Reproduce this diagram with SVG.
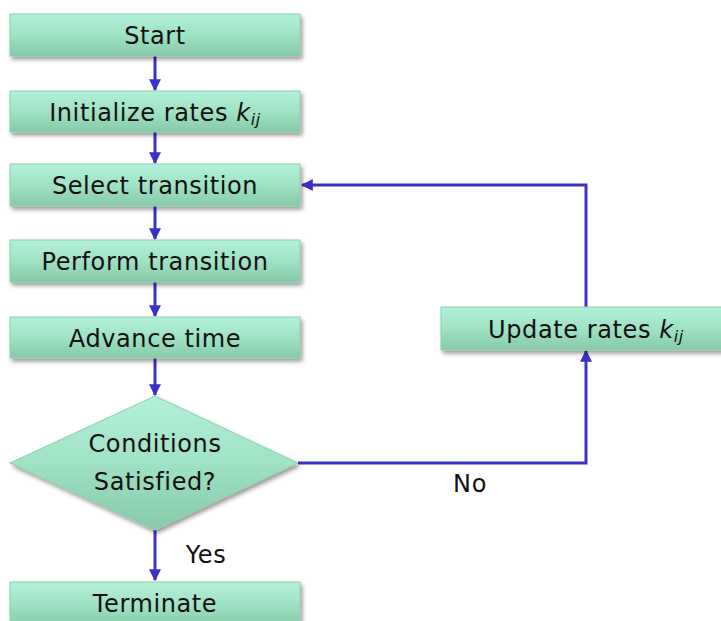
<svg xmlns="http://www.w3.org/2000/svg" width="721" height="621" viewBox="0 0 721 621">
  <defs>
    <linearGradient id="boxFill" x1="0" y1="0" x2="0" y2="1">
      <stop offset="0" stop-color="#b4f0d9"/>
      <stop offset="0.5" stop-color="#9fe2c4"/>
      <stop offset="1" stop-color="#86caa9"/>
    </linearGradient>
    <filter id="shadow" x="-10%" y="-20%" width="125%" height="150%">
      <feGaussianBlur in="SourceAlpha" stdDeviation="2"/>
      <feOffset dx="2" dy="3" result="b"/>
      <feComponentTransfer><feFuncA type="linear" slope="0.4"/></feComponentTransfer>
      <feMerge><feMergeNode/><feMergeNode in="SourceGraphic"/></feMerge>
    </filter>
    <marker id="arrow" viewBox="0 0 10 10" refX="9" refY="5" markerWidth="4" markerHeight="4" orient="auto" markerUnits="strokeWidth">
      <path d="M0,0 L10,5 L0,10 z" fill="#3a32c8"/>
    </marker>
  </defs>
  <style>
    .box { fill: url(#boxFill); stroke: #8ccfb0; stroke-width: 1; filter: url(#shadow); }
    .lbl { font-family: "DejaVu Sans", Verdana, sans-serif; font-size: 24px; fill: #111; text-anchor: middle; letter-spacing: 0.6px; }
    .sub { font-style: italic; }
    .edge { fill: none; stroke: #3a32c8; stroke-width: 3; marker-end: url(#arrow); }
  </style>

  <!-- connectors -->
  <g id="connectors">
    <line class="edge" x1="155" y1="56" x2="155" y2="90"/>
    <line class="edge" x1="155" y1="132" x2="155" y2="163"/>
    <line class="edge" x1="155" y1="206" x2="155" y2="239"/>
    <line class="edge" x1="155" y1="282" x2="155" y2="316"/>
    <line class="edge" x1="155" y1="358" x2="155" y2="395"/>
    <line class="edge" x1="155" y1="530" x2="155" y2="580"/>
    <polyline class="edge" points="298,463 586,463 586,351"/>
    <polyline class="edge" points="586,307 586,185 302,185"/>
  </g>

  <g id="start">
    <rect class="box" x="10" y="14" width="290" height="42"/>
    <text class="lbl" x="155" y="44">Start</text>
  </g>
  <g id="init">
    <rect class="box" x="10" y="91" width="290" height="41"/>
    <text class="lbl" x="155" y="121">Initialize rates <tspan class="sub">k</tspan><tspan class="sub" font-size="16" dy="4">ij</tspan></text>
  </g>
  <g id="select">
    <rect class="box" x="10" y="164" width="290" height="42"/>
    <text class="lbl" x="155" y="194">Select transition</text>
  </g>
  <g id="perform">
    <rect class="box" x="10" y="240" width="290" height="42"/>
    <text class="lbl" x="155" y="270">Perform transition</text>
  </g>
  <g id="advance">
    <rect class="box" x="10" y="317" width="290" height="41"/>
    <text class="lbl" x="155" y="347">Advance time</text>
  </g>
  <g id="decision">
    <polygon class="box" points="155,396 298,463 155,530 10,463"/>
    <text class="lbl" x="155" y="452">Conditions</text>
    <text class="lbl" x="155" y="490">Satisfied?</text>
  </g>
  <g id="update">
    <rect class="box" x="441" y="307" width="290" height="43"/>
    <text class="lbl" x="586" y="338">Update rates <tspan class="sub">k</tspan><tspan class="sub" font-size="16" dy="4">ij</tspan></text>
  </g>
  <g id="terminate">
    <rect class="box" x="10" y="582" width="290" height="45"/>
    <text class="lbl" x="155" y="612">Terminate</text>
  </g>

  <g id="edge-labels">
    <text class="lbl" x="470" y="492">No</text>
    <text class="lbl" x="206" y="563">Yes</text>
  </g>
</svg>
